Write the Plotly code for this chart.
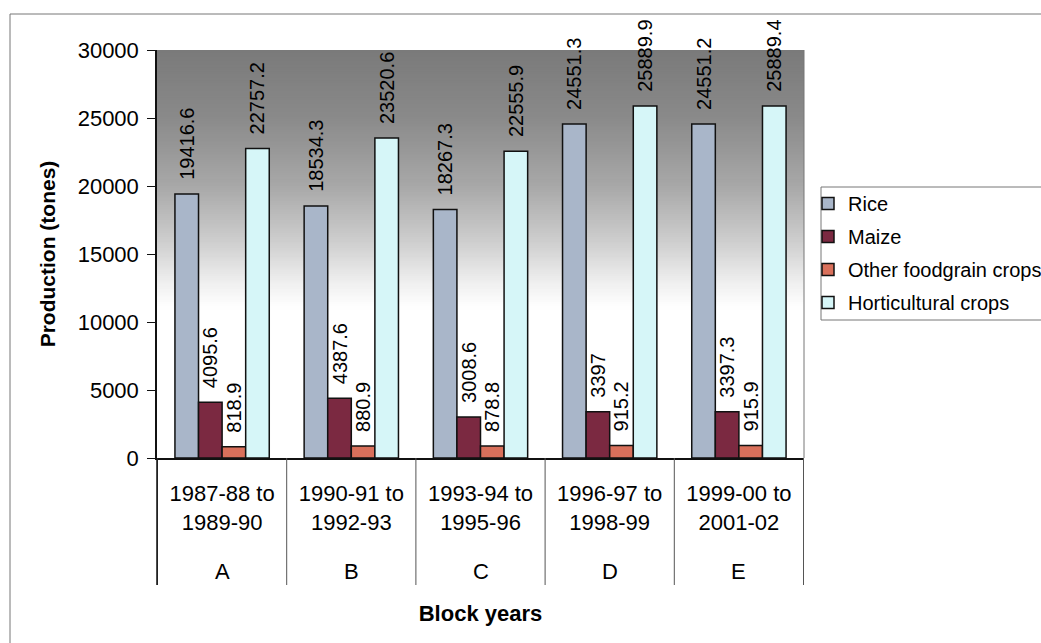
import plotly.graph_objects as go

# Production by block years (tonnes)
blocks = ["A", "B", "C", "D", "E"]
periods = ["1987-88 to<br>1989-90", "1990-91 to<br>1992-93", "1993-94 to<br>1995-96",
           "1996-97 to<br>1998-99", "1999-00 to<br>2001-02"]
rice = [19416.6, 18534.3, 18267.3, 24551.3, 24551.2]
maize = [4095.6, 4387.6, 3008.6, 3397, 3397.3]
other_foodgrain = [818.9, 880.9, 878.8, 915.2, 915.9]
horticultural = [22757.2, 23520.6, 22555.9, 25889.9, 25889.4]

series_names = ["Rice", "Maize", "Other foodgrain crops", "Horticultural crops"]
series_values = [rice, maize, other_foodgrain, horticultural]
series_colors = ["#a9b6c9", "#7b2941", "#d9705b", "#d6f6f8"]

FONT = "Liberation Sans, Arial, sans-serif"
W, H = 1041, 643
L, R, T, B = 157, 237, 50, 185
PW, PH = W - L - R, H - T - B


def px_x(px):
    return (px - L) / PW


def px_y(py):
    return (H - B - py) / PH


fig = go.Figure()

for i, (name, vals, col) in enumerate(zip(series_names, series_values, series_colors)):
    fig.add_trace(go.Bar(
        name=name,
        x=periods,
        y=vals,
        marker=dict(color=col, line=dict(color="#111111", width=1.5)),
        text=["  " + f"{v:g}" for v in vals],
        textposition="outside",
        textangle=-90,
        textfont=dict(family=FONT, size=20, color="black"),
        constraintext="none",
        cliponaxis=False,
        legendgroup=name,
    ))

shapes = []

# grey-to-white vertical gradient behind the bars
stops = [(30000, 122), (25000, 138), (20000, 168), (16000, 205), (13000, 238), (11000, 255)]
n_strips = 120
top, bottom = 30000, 11000
step = (top - bottom) / n_strips
for k in range(n_strips):
    y1 = top - step * k
    y0 = y1 - step
    ym = (y0 + y1) / 2
    for (ya, ca), (yb, cb) in zip(stops[:-1], stops[1:]):
        if yb <= ym <= ya:
            g = round(ca + (cb - ca) * (ya - ym) / (ya - yb))
            break
    shapes.append(dict(type="rect", xref="paper", yref="y", x0=0, x1=1,
                       y0=y0 - step * 0.6, y1=y1,
                       fillcolor=f"rgb({g},{g},{g})", line=dict(width=0), layer="below"))

# category dividers under the axis
for b in [i - 0.5 for i in range(len(blocks) + 1)]:
    shapes.append(dict(type="line", xref="x", yref="paper", x0=b, x1=b,
                       y0=0, y1=px_y(585), line=dict(color="#555555", width=1)))

# plot area right edge
shapes.append(dict(type="line", xref="paper", yref="paper", x0=1, x1=1, y0=0, y1=1,
                   line=dict(color="#777777", width=1)))

# outer chart frame (top and left edges)
shapes.append(dict(type="line", xref="paper", yref="paper", x0=px_x(10), x1=px_x(1045),
                   y0=px_y(14), y1=px_y(14), line=dict(color="#777777", width=1)))
shapes.append(dict(type="line", xref="paper", yref="paper", x0=px_x(10), x1=px_x(10),
                   y0=px_y(14), y1=px_y(645), line=dict(color="#777777", width=1)))

# legend box
shapes.append(dict(type="rect", xref="paper", yref="paper", x0=px_x(821), x1=px_x(1050),
                   y0=px_y(320), y1=px_y(187), line=dict(color="#777777", width=1),
                   fillcolor="white"))

annotations = [
    dict(x=p, y=px_y(571), xref="x", yref="paper", text=b, showarrow=False,
         font=dict(family=FONT, size=22, color="black"), yanchor="middle")
    for p, b in zip(periods, blocks)
]

fig.update_layout(
    width=W, height=H,
    margin=dict(l=L, r=R, t=T, b=B, autoexpand=False),
    paper_bgcolor="white",
    plot_bgcolor="white",
    barmode="group",
    bargap=0.27,
    bargroupgap=0,
    font=dict(family=FONT, color="black"),
    shapes=shapes,
    annotations=annotations,
    showlegend=True,
    legend=dict(
        x=px_x(808), y=px_y(184), xanchor="left", yanchor="top",
        bgcolor="rgba(0,0,0,0)", borderwidth=0,
        font=dict(family=FONT, size=20, color="black"),
        tracegroupgap=4, traceorder="grouped",
        itemclick=False,
    ),
    xaxis=dict(
        type="category",
        showline=True, linecolor="#111111", linewidth=1.5,
        ticks="", showgrid=False,
        tickfont=dict(family=FONT, size=22, color="black"),
        ticklabelstandoff=15,
        title=dict(text="<b>Block years</b>", font=dict(family=FONT, size=22, color="black"),
                   standoff=72),
    ),
    yaxis=dict(
        range=[0, 30000], dtick=5000, tick0=0, tickformat="d",
        showline=True, linecolor="#111111", linewidth=1.5,
        ticks="outside", ticklen=8, tickcolor="#111111",
        showgrid=False, zeroline=False,
        tickfont=dict(family=FONT, size=22, color="black"),
        ticklabelstandoff=4,
        title=dict(text="<b>Production (tones)</b>", font=dict(family=FONT, size=21, color="black"),
                   standoff=16),
    ),
)

# the y axis line continues down through the category label area
fig.add_shape(type="line", xref="paper", yref="paper", x0=0, x1=0, y0=0, y1=px_y(585),
              line=dict(color="#111111", width=1.5))

fig.write_html("out.html")
